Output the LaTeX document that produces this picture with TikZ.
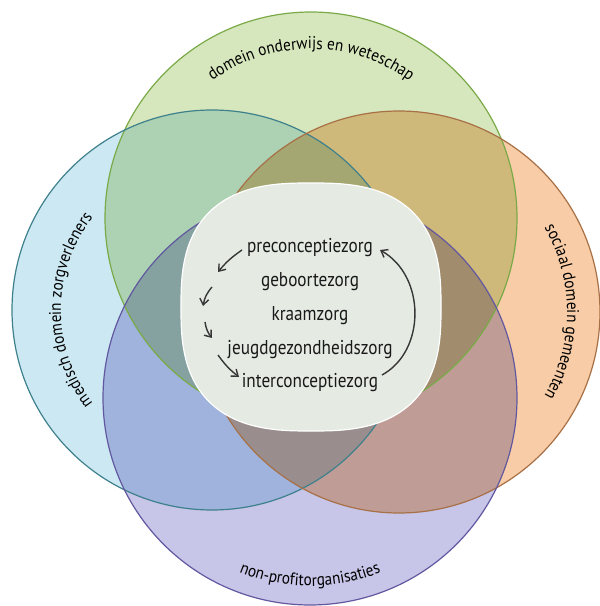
\documentclass[tikz,border=0pt]{standalone}
\usepackage{fontspec}
\setmainfont{PT Sans}
\newfontfamily\labelfont[FakeStretch=0.86]{PT Sans}
\newfontfamily\boogfont[FakeStretch=0.9]{PT Sans}
\usetikzlibrary{arrows.meta,decorations.text}

\definecolor{groenvlak}{RGB}{212,229,183}
\definecolor{blauwvlak}{RGB}{200,231,242}
\definecolor{oranjevlak}{RGB}{246,200,158}
\definecolor{paarsvlak}{RGB}{194,192,230}
\definecolor{groenlijn}{RGB}{122,170,72}
\definecolor{blauwlijn}{RGB}{62,128,140}
\definecolor{oranjelijn}{RGB}{168,112,70}
\definecolor{paarslijn}{RGB}{98,88,160}
\definecolor{kernvlak}{RGB}{229,234,227}
\definecolor{pijlkleur}{RGB}{55,55,55}

\tikzset{
  vlak/.style={fill=#1, blend mode=multiply, fill opacity=0.92},
  rand/.style={draw=#1, line width=1.2pt},
  zorg/.style={font=\labelfont\fontsize{20}{20}\selectfont, text=black!90, inner sep=0pt, anchor=base},
  pijl/.style={draw=pijlkleur, line width=1.4pt, -{Straight Barb[length=6pt,width=9pt]}},
  boogtekst/.style={decorate, decoration={text along path, text align=center,
      text={|\boogfont\fontsize{17}{17}\selectfont|#1}}}
}

\begin{document}
\begin{tikzpicture}[x=1pt,y=1pt]
        \useasboundingbox (0,0) rectangle (600,606);

        % Cirkels
        \fill[vlak=groenvlak]  (311,388) circle (206pt);
        \fill[vlak=blauwvlak]  (212,296) circle (200pt);
        \fill[vlak=oranjevlak] (399,294) circle (201pt);
        \fill[vlak=paarsvlak]  (310,208) circle (207pt);

        \draw[rand=groenlijn]  (311,388) circle (206pt);
        \draw[rand=blauwlijn]  (212,296) circle (200pt);
        \draw[rand=oranjelijn] (399,294) circle (201pt);
        \draw[rand=paarslijn]  (310,208) circle (207pt);

        % Kern
        \filldraw[fill=kernvlak, draw=white, line width=1.2pt]
            plot[domain=1:359, samples=180]
            ({311+130*sign(cos(\x))*abs(cos(\x))^(2/2.7)},
             {299+124*sign(sin(\x))*abs(sin(\x))^(2/2.7)}) -- cycle;

        % Teksten langs de cirkels
        \path[boogtekst={domein onderwijs en weteschap}] (311,388) ++(150:169pt) arc (150:30:169pt);
        \path[boogtekst={medisch domein zorgverleners}]  (212,296) ++(240:151pt) arc (240:120:151pt);
        \path[boogtekst={sociaal domein gemeenten}]      (399,294) ++(60:168pt)  arc (60:-60:168pt);
        \path[boogtekst={non-profitorganisaties}]        (310,208) ++(225:188pt) arc (225:315:188pt);

        % Zorgfasen
        \node[zorg] (pre)   at (310,353) {preconceptiezorg};
        \node[zorg] (geb)   at (310,319) {geboortezorg};
        \node[zorg] (kraam) at (310,285) {kraamzorg};
        \node[zorg] (jeugd) at (310,251) {jeugdgezondheidszorg};
        \node[zorg] (inter) at (310,218) {interconceptiezorg};

        % Pijlen
        \coordinate (p1) at (242,356);
        \coordinate (p2) at (218,334);
        \coordinate (p3) at (212,319);
        \coordinate (p4) at (203,300);
        \coordinate (p5) at (205,284);
        \coordinate (p6) at (212,268);
        \coordinate (p7) at (218,251);
        \coordinate (p8) at (239,229);
        \coordinate (q1) at (382,231);
        \coordinate (q2) at (380,356);

        \draw[pijl] (p1) to[bend right=8]  (p2);
        \draw[pijl] (p3) to[bend right=15] (p4);
        \draw[pijl] (p5) to[bend right=15] (p6);
        \draw[pijl] (p7) to[bend right=8]  (p8);
        \draw[pijl] (q1) .. controls (426,255) and (426,330) .. (q2);
\end{tikzpicture}
\end{document}
